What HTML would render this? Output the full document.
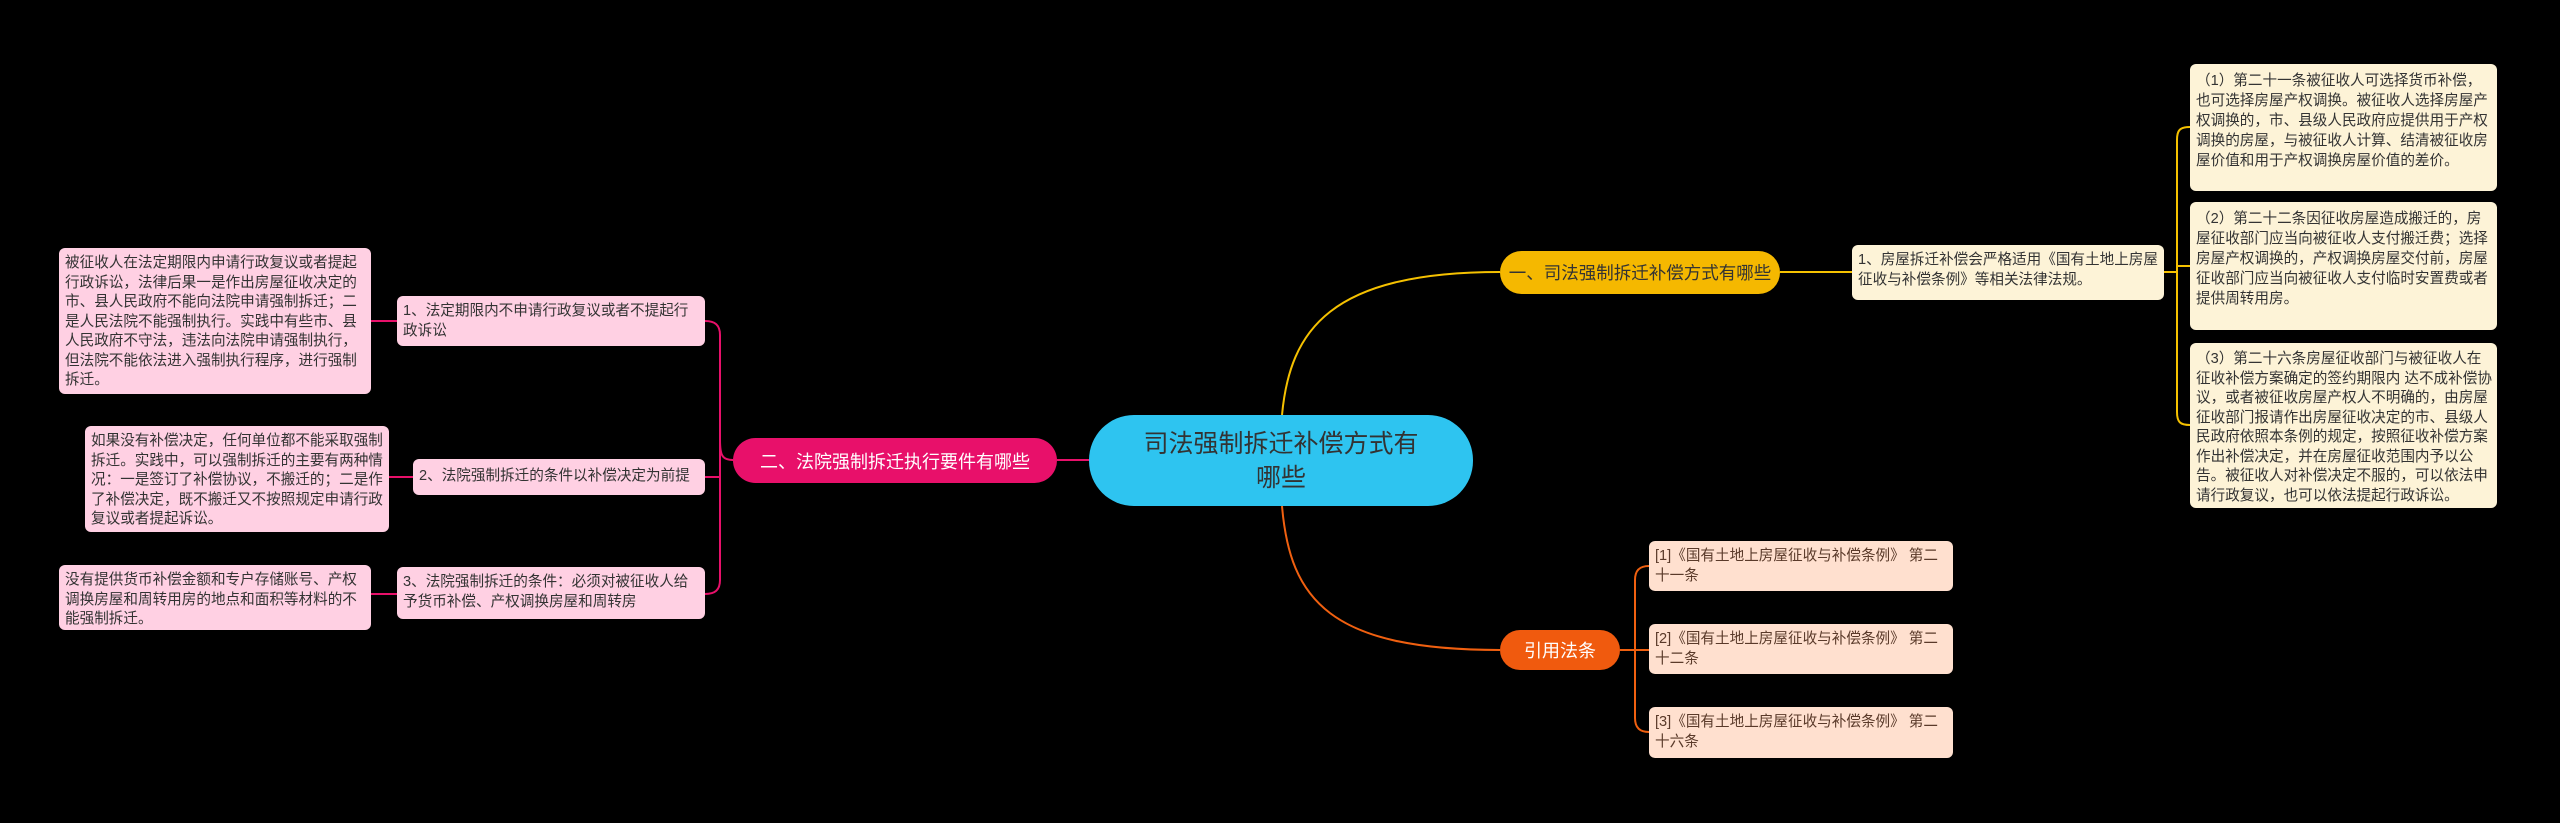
<!DOCTYPE html>
<html><head><meta charset="utf-8"><style>
body{margin:0;width:2560px;height:823px;background:#000;position:relative;overflow:hidden;font-family:"Liberation Sans","Noto Sans CJK SC",sans-serif}
.n{position:absolute;box-sizing:border-box;border-radius:6px;font-size:14.6px;line-height:19.5px;padding:6px 6px;color:#333}
.p{background:#ffd0e3}
.c{background:#fdf3d7}
.c2{line-height:20px;padding:7px 5px 5px 6px}
.r{background:#ffe0cf;color:#5a3a2a}
.b{position:absolute;display:flex;align-items:center;justify-content:center;border-radius:24px;color:#fff;font-size:18px;box-sizing:border-box;white-space:nowrap}
svg{position:absolute;left:0;top:0}
</style></head><body>
<svg width="2560" height="823" fill="none" stroke-width="2">
<path d="M1089 460 H1057" stroke="#e8106a"/>
<path d="M733 460 C722 460 720 455 720 440 V335 C720 325 715 321 705 321" stroke="#e8106a"/>
<path d="M720 440 V580 C720 590 715 594 705 594" stroke="#e8106a"/>
<path d="M720 477 H705" stroke="#e8106a"/>
<path d="M397 321 H371 M413 477 H389 M397 594 H371" stroke="#e8106a"/>
<path d="M1282 415 C1290 330 1330 272 1500 272" stroke="#f5c100"/>
<path d="M1780 272 H1852" stroke="#f5c100"/>
<path d="M2164 272 H2177 M2190 127 C2180 127 2177 130 2177 140 V412 C2177 422 2180 425 2190 425 M2177 266 H2190" stroke="#f5c100"/>
<path d="M1282 506 C1290 600 1330 650 1500 650" stroke="#f06010"/>
<path d="M1620 650 H1649 M1649 566 C1640 566 1635 570 1635 580 V718 C1635 728 1640 732 1649 732" stroke="#f06010"/>
</svg>
<div class="b" style="left:1089px;top:415px;width:384px;height:91px;background:#2ec4f0;color:#333;font-size:25px;border-radius:45px;text-align:center;line-height:34px;white-space:normal">司法强制拆迁补偿方式有<br>哪些</div>
<div class="b" style="left:733px;top:438px;width:324px;height:45px;background:#e8106a">二、法院强制拆迁执行要件有哪些</div>
<div class="b" style="left:1500px;top:251px;width:280px;height:43px;background:#f5b800;color:#333;font-size:17.5px">一、司法强制拆迁补偿方式有哪些</div>
<div class="b" style="left:1500px;top:630px;width:120px;height:40px;background:#f05a0e">引用法条</div>

<div class="n p" style="left:397px;top:296px;width:308px;height:50px">1、法定期限内不申请行政复议或者不提起行政诉讼</div>
<div class="n p" style="left:413px;top:459px;width:292px;height:36px;white-space:nowrap;padding-top:8px">2、法院强制拆迁的条件以补偿决定为前提</div>
<div class="n p" style="left:397px;top:567px;width:308px;height:52px">3、法院强制拆迁的条件：必须对被征收人给予货币补偿、产权调换房屋和周转房</div>
<div class="n p" style="left:59px;top:248px;width:312px;height:146px">被征收人在法定期限内申请行政复议或者提起行政诉讼，法律后果一是作出房屋征收决定的市、县人民政府不能向法院申请强制拆迁；二是人民法院不能强制执行。实践中有些市、县人民政府不守法，违法向法院申请强制执行，但法院不能依法进入强制执行程序，进行强制拆迁。</div>
<div class="n p" style="left:85px;top:426px;width:304px;height:106px">如果没有补偿决定，任何单位都不能采取强制拆迁。实践中，可以强制拆迁的主要有两种情况：一是签订了补偿协议，不搬迁的；二是作了补偿决定，既不搬迁又不按照规定申请行政复议或者提起诉讼。</div>
<div class="n p" style="left:59px;top:565px;width:312px;height:65px">没有提供货币补偿金额和专户存储账号、产权调换房屋和周转用房的地点和面积等材料的不能强制拆迁。</div>

<div class="n c" style="left:1852px;top:245px;width:312px;height:55px">1、房屋拆迁补偿会严格适用《国有土地上房屋征收与补偿条例》等相关法律法规。</div>
<div class="n c c2" style="left:2190px;top:64px;width:307px;height:127px">（1）第二十一条被征收人可选择货币补偿，也可选择房屋产权调换。被征收人选择房屋产权调换的，市、县级人民政府应提供用于产权调换的房屋，与被征收人计算、结清被征收房屋价值和用于产权调换房屋价值的差价。</div>
<div class="n c c2" style="left:2190px;top:202px;width:307px;height:128px">（2）第二十二条因征收房屋造成搬迁的，房屋征收部门应当向被征收人支付搬迁费；选择房屋产权调换的，产权调换房屋交付前，房屋征收部门应当向被征收人支付临时安置费或者提供周转用房。</div>
<div class="n c c2" style="left:2190px;top:343px;width:307px;height:165px;line-height:19.5px">（3）第二十六条房屋征收部门与被征收人在征收补偿方案确定的签约期限内 达不成补偿协议，或者被征收房屋产权人不明确的，由房屋征收部门报请作出房屋征收决定的市、县级人民政府依照本条例的规定，按照征收补偿方案作出补偿决定，并在房屋征收范围内予以公告。被征收人对补偿决定不服的，可以依法申请行政复议，也可以依法提起行政诉讼。</div>

<div class="n r" style="left:1649px;top:541px;width:304px;height:50px">[1]《国有土地上房屋征收与补偿条例》 第二十一条</div>
<div class="n r" style="left:1649px;top:624px;width:304px;height:50px">[2]《国有土地上房屋征收与补偿条例》 第二十二条</div>
<div class="n r" style="left:1649px;top:707px;width:304px;height:51px">[3]《国有土地上房屋征收与补偿条例》 第二十六条</div>
</body></html>
